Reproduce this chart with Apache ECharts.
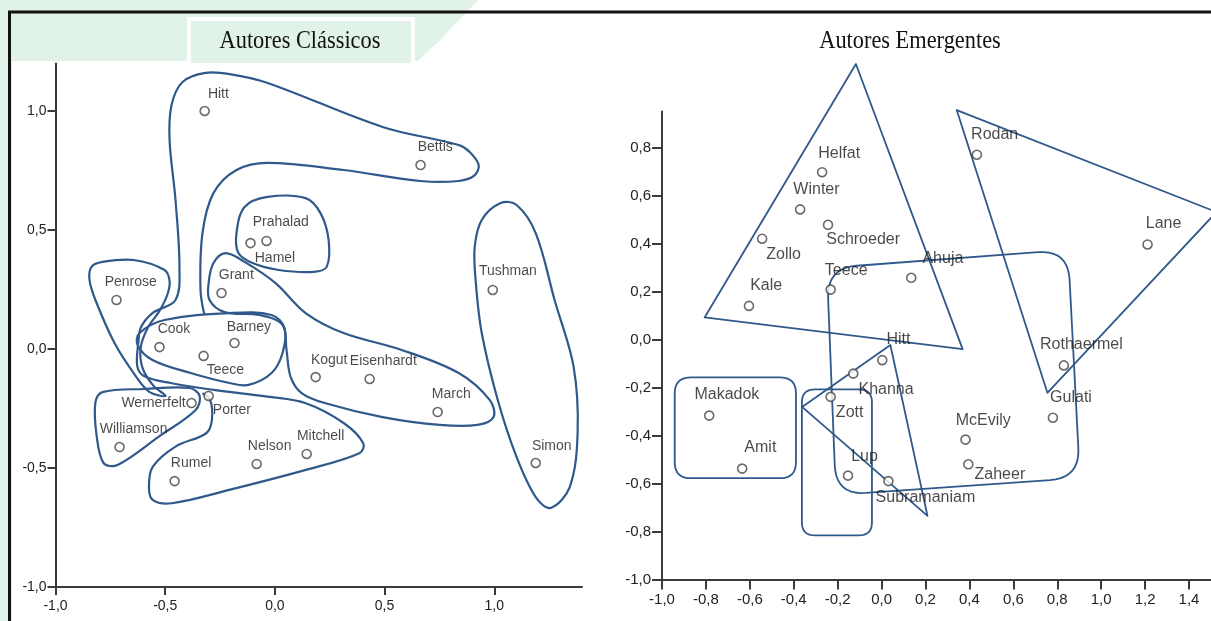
<!DOCTYPE html>
<html><head><meta charset="utf-8">
<script src="https://cdn.jsdelivr.net/npm/echarts@6/dist/echarts.min.js"></script>
<style>html,body{margin:0;padding:0;background:#fff}#c{width:1211px;height:621px}</style>
</head><body><div id="c"></div>
<script>
// ---------- DATA : Autores Clássicos ----------
const classicNames = ['Hitt','Bettis','Prahalad','Hamel','Penrose','Grant','Tushman','Cook','Barney','Teece','Kogut','Eisenhardt','March','Porter','Wernerfelt','Williamson','Nelson','Mitchell','Rumel','Simon'];
const classicX = [-0.32, 0.664, -0.111, -0.038, -0.722, -0.243, 0.993, -0.526, -0.184, -0.325, 0.186, 0.432, 0.742, -0.302, -0.38, -0.708, -0.083, 0.145, -0.457, 1.189];
const classicY = [1.0, 0.773, 0.445, 0.454, 0.206, 0.235, 0.248, 0.008, 0.025, -0.029, -0.118, -0.126, -0.265, -0.197, -0.227, -0.412, -0.483, -0.441, -0.555, -0.479];
const classicXTicks = [-1.0, -0.5, 0.0, 0.5, 1.0];
const classicYTicks = [-1.0, -0.5, 0.0, 0.5, 1.0];

// ---------- DATA : Autores Emergentes ----------
const emergNames = ['Helfat','Winter','Schroeder','Zollo','Kale','Teece','Ahuja','Rodan','Lane','Hitt','Rothaermel','Khanna','Zott','Gulati','Makadok','McEvily','Zaheer','Amit','Lup','Subramaniam'];
const emergX = [-0.271, -0.371, -0.244, -0.544, -0.604, -0.232, 0.135, 0.434, 1.211, 0.003, 0.830, -0.129, -0.232, 0.780, -0.785, 0.382, 0.395, -0.635, -0.153, 0.031];
const emergY = [0.697, 0.542, 0.478, 0.420, 0.14, 0.208, 0.257, 0.770, 0.396, -0.086, -0.108, -0.142, -0.239, -0.326, -0.317, -0.417, -0.520, -0.538, -0.567, -0.59];
const emergXTicks = [-1.0, -0.8, -0.6, -0.4, -0.2, 0.0, 0.2, 0.4, 0.6, 0.8, 1.0, 1.2, 1.4];
const emergYTicks = [-1.0, -0.8, -0.6, -0.4, -0.2, 0.0, 0.2, 0.4, 0.6, 0.8];

// ---------- Hand-drawn group outlines (data units) ----------
const classicHook = [[-0.321,0.143],[-0.339,0.248],[-0.330,0.487],[-0.280,0.655],[-0.175,0.752],[-0.033,0.782],[0.313,0.752],[0.664,0.706],[0.838,0.706],[0.907,0.727],[0.929,0.773],[0.888,0.828],[0.838,0.857],[0.491,0.933],[-0.033,1.118],[-0.206,1.155],[-0.316,1.160],[-0.421,1.122],[-0.471,1.025],[-0.480,0.878],[-0.453,0.626],[-0.435,0.345],[-0.453,0.206],[-0.558,0.151],[-0.610,0.092],[-0.622,0.030],[-0.627,-0.074],[-0.592,-0.116],[-0.470,-0.144],[-0.277,-0.172],[-0.034,-0.200],[0.141,-0.228],[0.315,-0.312],[0.403,-0.396],[0.385,-0.438],[0.141,-0.508],[-0.208,-0.592],[-0.470,-0.648],[-0.557,-0.634],[-0.574,-0.579],[-0.557,-0.495],[-0.453,-0.410],[-0.313,-0.354],[-0.287,-0.298],[-0.295,-0.214],[-0.330,-0.186]];
const classicPenrose = [[-0.836,0.345],[-0.786,0.366],[-0.644,0.374],[-0.503,0.332],[-0.480,0.286],[-0.489,0.231],[-0.526,0.160],[-0.580,0.088],[-0.612,0.004],[-0.603,-0.080],[-0.553,-0.155],[-0.498,-0.197],[-0.571,-0.181],[-0.635,-0.113],[-0.731,0.025],[-0.818,0.206],[-0.845,0.290]];
const classicWilliamson = [[-0.786,-0.181],[-0.594,-0.168],[-0.389,-0.164],[-0.343,-0.197],[-0.361,-0.256],[-0.526,-0.366],[-0.717,-0.487],[-0.781,-0.479],[-0.813,-0.361],[-0.818,-0.223]];
const classicCook = [[-0.617,0.067],[-0.503,0.122],[-0.207,0.151],[-0.015,0.143],[0.044,0.088],[0.035,-0.017],[-0.015,-0.101],[-0.120,-0.151],[-0.207,-0.143],[-0.384,-0.101],[-0.558,-0.046],[-0.626,0.017]];
const classicPrahalad = [[-0.175,0.487],[-0.138,0.597],[-0.033,0.639],[0.140,0.634],[0.208,0.571],[0.245,0.458],[0.236,0.345],[0.176,0.324],[0.017,0.332],[-0.102,0.361],[-0.166,0.403]];
const classicGrant = [[-0.225,0.403],[-0.138,0.366],[0.003,0.277],[0.140,0.151],[0.313,0.067],[0.578,-0.004],[0.838,-0.101],[0.979,-0.214],[0.997,-0.286],[0.924,-0.319],[0.751,-0.319],[0.491,-0.286],[0.227,-0.227],[0.122,-0.185],[0.072,-0.118],[0.053,-0.004],[0.035,0.101],[-0.070,0.143],[-0.229,0.155],[-0.298,0.206],[-0.302,0.277],[-0.280,0.361]];
const classicTushman = [[1.029,0.613],[1.102,0.605],[1.189,0.487],[1.275,0.206],[1.362,-0.076],[1.380,-0.353],[1.344,-0.580],[1.257,-0.668],[1.189,-0.622],[1.102,-0.454],[1.016,-0.214],[0.943,0.067],[0.915,0.290],[0.911,0.429],[0.943,0.542]];

const emergTriHelfat = [[-0.117,1.148],[-0.806,0.092],[0.369,-0.040]];
const emergTriLane = [[0.342,0.956],[1.525,0.531],[0.755,-0.222]];
const emergTriHitt = [[-0.362,-0.281],[0.040,-0.023],[0.209,-0.735]];
const emergBoxAhuja = [[-0.249,0.298],[0.849,0.373],[0.903,-0.577],[-0.208,-0.648]];
const emergBoxMakadok = [[-0.942,-0.158],[-0.390,-0.158],[-0.390,-0.578],[-0.942,-0.578]];
const emergBoxZott = [[-0.363,-0.208],[-0.044,-0.208],[-0.044,-0.816],[-0.363,-0.816]];

// ---------- label placement (pixel offsets from the marker centre) ----------
const classicLabelOffset = {Hitt:[4,-16],Bettis:[-2,-17],Prahalad:[3,-20],Hamel:[-11,18],Penrose:[-11,-17],Grant:[-2,-17],Tushman:[-13,-18],Cook:[-1,-17],Barney:[-7,-15],Teece:[4,15],Kogut:[-4,-16],Eisenhardt:[-19,-17],March:[-5,-17],Porter:[5,15],Wernerfelt:[-5,1,'right'],Williamson:[-19,-17],Nelson:[-8,-17],Mitchell:[-9,-17],Rumel:[-3,-17],Simon:[-3,-16]};
const emergLabelOffset = {Helfat:[-3,-18],Winter:[-6,-19],Schroeder:[-1,16],Zollo:[5,17],Kale:[2,-20],Teece:[-5,-18],Ahuja:[12,-18],Rodan:[-5,-19],Lane:[-1,-20],Hitt:[5,-20],Rothaermel:[-23,-20],Khanna:[6,17],Zott:[6,17],Gulati:[-2,-19],Makadok:[-14,-20],McEvily:[-9,-18],Zaheer:[7,11],Amit:[3,-20],Lup:[4,-18],Subramaniam:[-12,17]};

const OUTLINE = '#30598b';
const GREEN = '#e1f2e8';
const SYM = 9;

function fmt(v){ return v.toFixed(1).replace('.', ','); }

function roundCorners(pts, r){
  const out = [];
  const n = pts.length;
  for (let i = 0; i < n; i++){
    const P = pts[i], A = pts[(i-1+n)%n], B = pts[(i+1)%n];
    const la = Math.hypot(A[0]-P[0], A[1]-P[1]), lb = Math.hypot(B[0]-P[0], B[1]-P[1]);
    const ra = Math.min(r, la/2), rb = Math.min(r, lb/2);
    const p1 = [P[0]+(A[0]-P[0])/la*ra, P[1]+(A[1]-P[1])/la*ra];
    const p2 = [P[0]+(B[0]-P[0])/lb*rb, P[1]+(B[1]-P[1])/lb*rb];
    for (let k = 0; k <= 10; k++){
      const t = k/10, u = 1-t;
      out.push([u*u*p1[0]+2*u*t*P[0]+t*t*p2[0], u*u*p1[1]+2*u*t*P[1]+t*t*p2[1]]);
    }
  }
  return out;
}

function outlineSeries(shapes, axisIdx, lw){
  return {
    type:'custom', xAxisIndex:axisIdx, yAxisIndex:axisIdx, silent:true, z:1, clip:false,
    data: shapes.map(() => [0, 0]),
    renderItem(params, api){
      const s = shapes[params.dataIndex];
      const pts = s.pts.map(p => api.coord(p));
      const style = {fill:'none', stroke:OUTLINE, lineWidth:lw, lineJoin:'round'};
      if (s.kind === 'round') return {type:'polygon', shape:{points:roundCorners(pts, s.r)}, style};
      if (s.kind === 'poly') return {type:'polygon', shape:{points:pts}, style};
      if (s.kind === 'open') return {type:'polyline', shape:{points:pts, smooth:0.35}, style};
      return {type:'polygon', shape:{points:pts, smooth:0.35}, style};
    }
  };
}

function pointSeries(names, xs, ys, offsets, axisIdx, fs){
  return {
    type:'scatter', xAxisIndex:axisIdx, yAxisIndex:axisIdx, symbol:'circle', symbolSize:SYM, z:3,
    itemStyle:{color:'#ffffff', borderColor:'#454545', borderWidth:1.6},
    emphasis:{disabled:true},
    data: names.map((n, i) => {
      const o = offsets[n] || [4,-16];
      return {name:n, value:[xs[i], ys[i]], label:{
        show:true, formatter:'{b}', position:[o[0]+SYM/2, o[1]+SYM/2],
        align:o[2] || 'left', verticalAlign:'middle',
        fontFamily:'Liberation Sans, Arial, sans-serif', fontSize:fs, color:'#1c1c1c'
      }};
    })
  };
}

function axisCommon(ticks, tickLen, margin, fs, inside){
  return {
    axisLine:{show:true, onZero:false, lineStyle:{color:'#3a3a3a', width:2}},
    axisTick:{show:true, customValues:ticks, length:tickLen, lineStyle:{color:'#3a3a3a', width:2}},
    axisLabel:{customValues:ticks, formatter:fmt, margin:margin, fontSize:fs,
      fontFamily:'Liberation Sans, Arial, sans-serif', color:'#222'},
    splitLine:{show:false}
  };
}

const chart = echarts.init(document.getElementById('c'), null, {renderer:'canvas'});
chart.setOption({
  animation:false,
  backgroundColor:'#ffffff',
  graphic:[
    {type:'polygon', z:-10, shape:{points:[[0,0],[478,0],[440,40],[418,61],[12,61],[12,621],[0,621]]}, style:{fill:GREEN}},
    {type:'rect', z:-9, shape:{x:189,y:19,width:224,height:46}, style:{fill:GREEN, stroke:'#ffffff', lineWidth:4}},
    {type:'line', z:-8, shape:{x1:8,y1:12,x2:1211,y2:12}, style:{stroke:'#111', lineWidth:3}},
    {type:'line', z:-8, shape:{x1:9.5,y1:11,x2:9.5,y2:621}, style:{stroke:'#111', lineWidth:3}},
    {type:'text', z:5, x:300, y:41, scaleX:0.86, style:{text:'Autores Clássicos', font:'26px "Liberation Serif", "Times New Roman", serif', fill:'#111', textAlign:'center', textVerticalAlign:'middle'}},
    {type:'text', z:5, x:910, y:41, scaleX:0.86, style:{text:'Autores Emergentes', font:'26px "Liberation Serif", "Times New Roman", serif', fill:'#111', textAlign:'center', textVerticalAlign:'middle'}}
  ],
  grid:[
    {left:55.5, right:629, top:63.4, bottom:34},
    {left:662, right:0, top:111.5, bottom:41.5}
  ],
  xAxis:[
    Object.assign({type:'value', gridIndex:0, min:-1, max:1.4, position:'bottom'}, axisCommon(classicXTicks, 8, 12, 14)),
    Object.assign({type:'value', gridIndex:1, min:-1, max:1.5, position:'bottom'}, axisCommon(emergXTicks, 10, 13, 15))
  ],
  yAxis:[
    Object.assign({type:'value', gridIndex:0, min:-1, max:1.2, position:'left'}, axisCommon(classicYTicks, 8, 9, 14)),
    Object.assign({type:'value', gridIndex:1, min:-1, max:0.95, position:'left'}, axisCommon(emergYTicks, 10, 11, 15))
  ],
  series:[
    outlineSeries([
      {kind:'open', pts:classicHook},
      {kind:'blob', pts:classicPenrose},
      {kind:'blob', pts:classicWilliamson},
      {kind:'blob', pts:classicCook},
      {kind:'blob', pts:classicPrahalad},
      {kind:'blob', pts:classicGrant},
      {kind:'blob', pts:classicTushman}
    ], 0, 2.2),
    outlineSeries([
      {kind:'poly', pts:emergTriHelfat},
      {kind:'poly', pts:emergTriLane},
      {kind:'poly', pts:emergTriHitt},
      {kind:'round', pts:emergBoxAhuja, r:30},
      {kind:'round', pts:emergBoxMakadok, r:16},
      {kind:'round', pts:emergBoxZott, r:13}
    ], 1, 1.8),
    pointSeries(classicNames, classicX, classicY, classicLabelOffset, 0, 14),
    pointSeries(emergNames, emergX, emergY, emergLabelOffset, 1, 16)
  ]
});
</script>
</body></html>
